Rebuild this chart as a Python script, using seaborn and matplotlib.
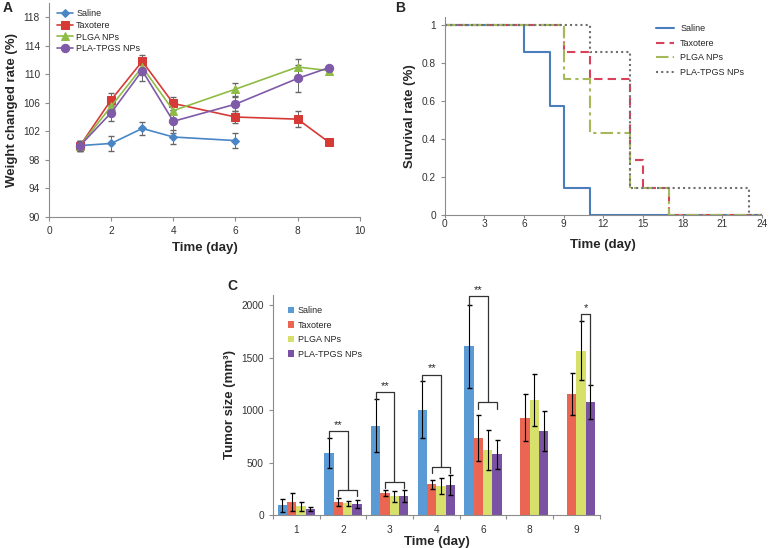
import numpy as np
import pandas as pd
import matplotlib
matplotlib.use('Agg')
import matplotlib.pyplot as plt
import seaborn as sns

sns.set_style('ticks')
plt.rcParams['font.family'] = ['Liberation Sans', 'DejaVu Sans']

groups = ['Saline', 'Taxotere', 'PLGA NPs', 'PLA-TPGS NPs']

# panel A: body weight change
days_a = [1, 2, 3, 4, 6, 8, 9]
weight = {
    'Saline': [100.0, 100.3, 102.4, 101.2, 100.7, np.nan, np.nan],
    'Taxotere': [100.0, 106.4, 111.8, 105.9, 104.0, 103.7, 100.5],
    'PLGA NPs': [100.0, 105.5, 111.0, 104.9, 107.9, 111.0, 110.5],
    'PLA-TPGS NPs': [100.0, 104.6, 110.5, 103.4, 105.8, 109.4, 110.9],
}
weight_err = {
    'Saline': [0.7, 1.0, 0.9, 1.0, 1.0, np.nan, np.nan],
    'Taxotere': [0.7, 0.9, 0.9, 0.9, 0.9, 1.1, 0.3],
    'PLGA NPs': [0.7, 1.0, 1.1, 1.0, 0.9, 1.1, 0.3],
    'PLA-TPGS NPs': [0.6, 1.1, 1.4, 1.6, 1.0, 1.9, 0.3],
}

# panel B: survival (step change points)
surv_t = {
    'Saline': [0, 6, 8, 9, 11, 24],
    'Taxotere': [0, 9, 11, 14, 15, 17, 24],
    'PLGA NPs': [0, 9, 11, 14, 17, 24],
    'PLA-TPGS NPs': [0, 11, 14, 23, 24],
}
surv_v = {
    'Saline': [1, 0.857, 0.571, 0.143, 0, 0],
    'Taxotere': [1, 0.857, 0.714, 0.286, 0.143, 0, 0],
    'PLGA NPs': [1, 0.714, 0.429, 0.143, 0, 0],
    'PLA-TPGS NPs': [1, 0.857, 0.143, 0, 0],
}

# panel C: tumor size
days_c = ['1', '2', '3', '4', '6', '8', '9']
tumor = {
    'Saline': [92, 592, 853, 1006, 1611, np.nan, np.nan],
    'Taxotere': [124, 124, 213, 293, 732, 930, 1153],
    'PLGA NPs': [83, 111, 178, 277, 618, 1099, 1567],
    'PLA-TPGS NPs': [60, 105, 182, 290, 580, 800, 1076],
}
tumor_err = {
    'Saline': [58, 140, 255, 270, 395, np.nan, np.nan],
    'Taxotere': [83, 35, 30, 45, 220, 228, 200],
    'PLGA NPs': [40, 25, 55, 80, 190, 250, 280],
    'PLA-TPGS NPs': [20, 40, 55, 95, 140, 190, 160],
}
# significance brackets (saline vs treated groups)
sig_days = ['2', '3', '4', '6']
sig_top = [800, 1170, 1340, 2090]
sig_low = [240, 320, 460, 1075]
# day 9 PLGA vs PLA-TPGS
sig9_top = 1917

col_a = {'Saline': '#4a86c5', 'Taxotere': '#d63a36', 'PLGA NPs': '#8fbc45', 'PLA-TPGS NPs': '#7f5aa8'}
mk_a = {'Saline': 'D', 'Taxotere': 's', 'PLGA NPs': '^', 'PLA-TPGS NPs': 'o'}
ms_a = {'Saline': 4.2, 'Taxotere': 5.2, 'PLGA NPs': 5.8, 'PLA-TPGS NPs': 6}
col_b = {'Saline': '#4a7ebb', 'Taxotere': '#d9405a', 'PLGA NPs': '#a5b85a', 'PLA-TPGS NPs': '#707070'}
ls_b = {'Saline': '-', 'Taxotere': (0, (4, 2.5)), 'PLGA NPs': (0, (6, 2, 1.5, 2)), 'PLA-TPGS NPs': (0, (1, 1.5))}
col_c = {'Saline': '#5b9bd5', 'Taxotere': '#ea6552', 'PLGA NPs': '#d7e06a', 'PLA-TPGS NPs': '#7a52a3'}

axis_col = '#8c8c8c'
tick_fs = 7.3
lab_fs = 9.5

fig = plt.figure(figsize=(7.71, 5.48), dpi=100)
ax_a = fig.add_axes([0.0636, 0.604, 0.403, 0.391])
ax_b = fig.add_axes([0.577, 0.608, 0.411, 0.361])
ax_c = fig.add_axes([0.354, 0.060, 0.424, 0.402])


def style_axes(ax):
    for s in ['top', 'right']:
        ax.spines[s].set_visible(False)
    for s in ['left', 'bottom']:
        ax.spines[s].set_color(axis_col)
        ax.spines[s].set_linewidth(0.8)
    ax.tick_params(colors=axis_col, labelcolor='#333333', labelsize=tick_fs, length=3, width=0.8)


# ---- A ----
for g in groups:
    d = pd.DataFrame({'day': days_a, 'w': weight[g], 'e': weight_err[g]}).dropna()
    ax_a.errorbar(d.day, d.w, yerr=d.e, fmt='none', ecolor='#666666', elinewidth=0.7, capsize=2, zorder=2)
    sns.lineplot(data=d, x='day', y='w', ax=ax_a, color=col_a[g], marker=mk_a[g], markersize=ms_a[g],
                 markeredgecolor=col_a[g], linewidth=1.2, label=g, zorder=3)
ax_a.set_xlim(0, 10)
ax_a.set_ylim(90, 120)
ax_a.set_xticks(range(0, 11, 2))
ax_a.set_yticks(range(90, 119, 4))
ax_a.set_xlabel('Time (day)', fontsize=lab_fs, fontweight='bold')
ax_a.set_ylabel('Weight changed rate (%)', fontsize=lab_fs, fontweight='bold')
style_axes(ax_a)
ax_a.legend(loc='upper left', bbox_to_anchor=(0.0, 1.008), frameon=False, fontsize=6.5,
            handlelength=1.8, labelspacing=0.3, handletextpad=0.3)

# ---- B ----
for g in groups:
    d = pd.DataFrame({'t': surv_t[g], 's': surv_v[g]})
    sns.lineplot(data=d, x='t', y='s', ax=ax_b, color=col_b[g], drawstyle='steps-post',
                 linewidth=1.5, label=g)
    ax_b.lines[-1].set_linestyle(ls_b[g])
ax_b.set_xlim(0, 24)
ax_b.set_ylim(0, 1.04)
ax_b.set_xticks(range(0, 25, 3))
ax_b.set_yticks([0, 0.2, 0.4, 0.6, 0.8, 1])
ax_b.set_yticklabels(['0', '0.2', '0.4', '0.6', '0.8', '1'])
ax_b.set_xlabel('Time (day)', fontsize=lab_fs, fontweight='bold', labelpad=7)
ax_b.set_ylabel('Survival rate (%)', fontsize=lab_fs, fontweight='bold')
style_axes(ax_b)
ax_b.tick_params(axis='x', length=2, pad=1)
ax_b.legend(loc='upper right', bbox_to_anchor=(0.97, 1.005), frameon=False, fontsize=6.5,
            handlelength=2.0, labelspacing=0.62, handletextpad=0.7)

# ---- C ----
rows = []
for g in groups:
    for dd, v, e in zip(days_c, tumor[g], tumor_err[g]):
        rows.append({'day': dd, 'size': v, 'err': e, 'group': g})
df_c = pd.DataFrame(rows)
sns.barplot(data=df_c, x='day', y='size', hue='group', order=days_c, hue_order=groups,
            palette=col_c, saturation=1, width=0.8, errorbar=None, ax=ax_c, linewidth=0)
bw = 0.8 / len(groups)
offs = {g: -0.4 + bw * (i + 0.5) for i, g in enumerate(groups)}
for g in groups:
    d = df_c[df_c.group == g].dropna()
    xs = [days_c.index(v) + offs[g] for v in d.day]
    ax_c.errorbar(xs, d['size'], yerr=d.err, fmt='none', ecolor='black', elinewidth=0.8, capsize=1.8, zorder=4)

bk = dict(color='#333333', lw=0.9, zorder=5)
for dd, top, low in zip(sig_days, sig_top, sig_low):
    i = days_c.index(dd)
    s = df_c[(df_c.group == 'Saline') & (df_c.day == dd)].iloc[0]
    xs0 = i + offs['Saline']
    xl, xr = i + offs['Taxotere'], i + offs['PLA-TPGS NPs']
    xm = (xl + xr) / 2
    ax_c.plot([xs0, xs0, xm, xm], [s['size'] + s.err, top, top, low], **bk)
    ax_c.plot([xl, xl, xr, xr], [low - 60, low, low, low - 60], **bk)
    ax_c.text((xs0 + xm) / 2, top + 10, '**', ha='center', va='bottom', fontsize=8)
i = days_c.index('9')
p = df_c[(df_c.group == 'PLGA NPs') & (df_c.day == '9')].iloc[0]
q = df_c[(df_c.group == 'PLA-TPGS NPs') & (df_c.day == '9')].iloc[0]
x1, x2 = i + offs['PLGA NPs'], i + offs['PLA-TPGS NPs']
ax_c.plot([x1, x1, x2, x2], [p['size'] + p.err, sig9_top, sig9_top, q['size'] + q.err], **bk)
ax_c.text((x1 + x2) / 2, sig9_top + 10, '*', ha='center', va='bottom', fontsize=8)

ax_c.set_xlim(-0.5, len(days_c) - 0.5)
ax_c.set_ylim(0, 2100)
ax_c.set_yticks(range(0, 2001, 500))
ax_c.set_xticks(np.arange(-0.5, len(days_c), 1), minor=True)
ax_c.set_xlabel('Time (day)', fontsize=lab_fs, fontweight='bold', labelpad=1)
ax_c.set_ylabel('Tumor size (mm³)', fontsize=lab_fs, fontweight='bold')
style_axes(ax_c)
ax_c.tick_params(axis='x', which='minor', length=3, color=axis_col, width=0.8)
ax_c.tick_params(axis='x', which='major', length=0, pad=7)
ax_c.legend(loc='upper left', bbox_to_anchor=(0.02, 0.985), frameon=False, fontsize=6.5,
            handlelength=0.7, handleheight=0.7, labelspacing=0.6, handletextpad=0.4)

fig.text(0.003, 0.998, 'A', fontsize=10, fontweight='bold', va='top')
fig.text(0.512, 0.998, 'B', fontsize=10, fontweight='bold', va='top')
fig.text(0.295, 0.49, 'C', fontsize=10, fontweight='bold', va='top')

fig.savefig('out.png', dpi=100)
